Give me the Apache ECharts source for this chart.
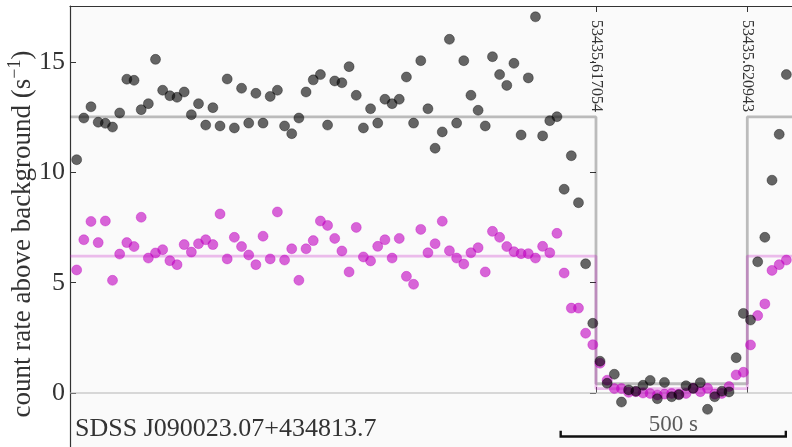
<!DOCTYPE html>
<html>
<head>
<meta charset="utf-8">
<script src="https://cdn.jsdelivr.net/npm/echarts@6/dist/echarts.min.js"></script>
<style>
  html, body { margin: 0; padding: 0; background: #ffffff; }
  #chart { width: 792px; height: 447px; }
</style>
</head>
<body>
<div id="chart"></div>
<script>
// Light curve of SDSS J090023.07+434813.7 around an eclipse.
// Times are seconds relative to the ingress epoch (MJD 53435.617054).

const timesSec = [
  -1153.3, -1137.4, -1121.5, -1105.5, -1089.6, -1073.7, -1057.8, -1041.9, -1025.9, -1010.0,
  -994.1, -978.2, -962.3, -946.3, -930.4, -914.5, -898.6, -882.7, -866.7, -850.8,
  -834.9, -819.0, -803.1, -787.1, -771.2, -755.3, -739.4, -723.5, -707.5, -691.6,
  -675.7, -659.8, -643.9, -627.9, -612.0, -596.1, -580.2, -564.3, -548.3, -532.4,
  -516.5, -500.6, -484.7, -468.7, -452.8, -436.9, -421.0, -405.1, -389.1, -373.2,
  -357.3, -341.4, -325.5, -309.5, -293.6, -277.7, -261.8, -245.9, -229.9, -214.0,
  -198.1, -182.2, -166.3, -150.3, -134.4, -118.5, -102.6, -86.7, -70.7, -54.8,
  -38.9, -23.0, -7.1, 8.9, 24.8, 40.7, 56.6, 72.5, 88.5, 104.4,
  120.3, 136.2, 152.1, 168.1, 184.0, 199.9, 215.8, 231.7, 247.7, 263.6,
  279.5, 295.4, 311.3, 327.3, 343.2, 359.1, 375.0, 390.9, 406.9, 422.8
];

// Count rate above background (s^-1), grey band
const rateGrey = [
  10.58, 12.47, 12.98, 12.28, 12.23, 12.06, 12.70, 14.23, 14.18, 12.85,
  13.12, 15.13, 13.73, 13.48, 13.41, 13.65, 12.62, 13.12, 12.15, 12.94,
  12.11, 14.24, 12.02, 13.82, 12.24, 13.59, 12.24, 13.45, 13.73, 12.11,
  11.76, 12.47, 13.65, 14.20, 14.44, 12.15, 14.15, 14.07, 14.80, 13.50,
  12.02, 12.89, 12.24, 13.32, 13.12, 13.32, 14.33, 12.24, 15.07, 12.89,
  11.10, 11.84, 16.04, 12.24, 15.07, 13.50, 12.82, 12.11, 15.25, 14.44,
  13.95, 14.95, 11.70, 14.29, 17.06, 11.66, 12.35, 12.53, 9.24, 10.76,
  8.63, 5.86, 3.16, 1.44, 0.44, 0.85, -0.41, 0.14, 0.08, 0.35,
  0.57, -0.26, 0.48, -0.17, -0.08, 0.33, 0.21, 0.47, -0.74, -0.17,
  0.08, 0.05, 1.60, 3.61, 3.31, 5.95, 7.06, 9.65, 11.73, 14.44
];

// Count rate above background (s^-1), magenta band
const rateMagenta = [
  5.58, 6.95, 7.78, 6.82, 7.80, 5.11, 6.30, 6.82, 6.64, 7.97,
  6.12, 6.35, 6.50, 6.00, 5.82, 6.73, 6.39, 6.77, 6.95, 6.73,
  8.12, 6.08, 7.06, 6.64, 6.26, 5.82, 7.11, 6.08, 8.21, 6.03,
  6.54, 5.11, 6.54, 6.91, 7.80, 7.60, 7.01, 6.44, 5.49, 7.51,
  6.17, 5.99, 6.65, 6.95, 6.12, 7.01, 5.29, 4.93, 7.42, 6.36,
  6.77, 7.79, 6.45, 6.12, 5.85, 6.36, 6.59, 5.49, 7.33, 7.06,
  6.64, 6.41, 6.32, 6.32, 6.12, 6.65, 6.36, 7.24, 5.44, 3.85,
  3.85, 2.71, 2.19, 1.35, 0.58, 0.20, 0.20, 0.03, 0.06, 0.00,
  -0.02, -0.09, -0.05, -0.02, -0.05, -0.02, 0.21, 0.06, 0.21, -0.05,
  -0.02, 0.29, 0.82, 0.94, 2.18, 3.51, 4.04, 5.56, 5.82, 6.03
];

// Contact epochs (MJD) shown as tick labels
const contactLabels = ['53435.617054', '53435.620943'];
const refMJD = 53435.617054;
const contactSec = contactLabels.map(s => (parseFloat(s) - refMJD) * 86400);

// Step model of the eclipse: out-of-eclipse level and in-eclipse level
const X_MIN = -1168.1, X_MAX = 435.3;
const Y_MIN = -2.449, Y_MAX = 17.55;
const modelTimes = [X_MIN, contactSec[0], contactSec[0], contactSec[1], contactSec[1], X_MAX];
const modelGrey = [12.52, 12.52, 0.42, 0.42, 12.52, 12.52];
const modelMagenta = [6.21, 6.21, 0.20, 0.20, 6.21, 6.21];

const yTicks = [0, 5, 10, 15];

// Time scale bar
const scaleBarStart = -78.4;
const scaleBarLength = 500;
const scaleBarText = '500 s';

const objectName = 'SDSS J090023.07+434813.7';
const yTitle = '{b|count rate above background (s}{sup|\u22121}{b|)}';

const serif = "Liberation Serif";
const zip = (xs, ys) => xs.map((x, i) => [x, ys[i]]);

const chart = echarts.init(document.getElementById('chart'), null, { renderer: 'canvas' });

chart.setOption({
  animation: false,
  backgroundColor: '#ffffff',
  grid: {
    left: 70, right: 0, top: 6, bottom: 0,
    show: true, backgroundColor: '#fafafa', borderWidth: 0
  },
  xAxis: [
    {
      type: 'value', position: 'top', min: X_MIN, max: X_MAX,
      axisLine: { show: true, onZero: false, lineStyle: { color: '#333333', width: 1.2 } },
      axisTick: { show: true, inside: true, length: 6, customValues: contactSec,
                  lineStyle: { color: '#333333', width: 1 } },
      axisLabel: {
        show: true, inside: true, rotate: 90, margin: 14,
        customValues: contactSec,
        formatter: v => {
          const i = contactSec.findIndex(c => Math.abs(c - v) < 1);
          return i >= 0 ? contactLabels[i] : '';
        },
        fontFamily: serif, fontSize: 16, color: '#333333'
      },
      splitLine: { show: false }
    },
    {
      type: 'value', position: 'bottom', min: X_MIN, max: X_MAX,
      axisLine: { show: false },
      axisTick: { show: true, inside: true, length: 6, customValues: contactSec,
                  lineStyle: { color: '#555555', width: 1 } },
      axisLabel: { show: false },
      splitLine: { show: false }
    }
  ],
  yAxis: [
    {
      type: 'value', min: Y_MIN, max: Y_MAX,
      axisLine: { show: true, onZero: false, lineStyle: { color: '#333333', width: 1.2 } },
      axisTick: { show: true, inside: true, length: 6, customValues: yTicks,
                  lineStyle: { color: '#333333', width: 1 } },
      axisLabel: { show: true, customValues: yTicks, margin: 5,
                   fontFamily: serif, fontSize: 26, color: '#333333' },
      splitLine: { show: false }
    },
    {
      type: 'value', position: 'right', min: Y_MIN, max: Y_MAX,
      axisLine: { show: false },
      axisTick: { show: true, inside: true, length: 6, customValues: yTicks,
                  lineStyle: { color: '#333333', width: 1 } },
      axisLabel: { show: false },
      splitLine: { show: false }
    }
  ],
  graphic: [
    {
      type: 'text', left: 75, top: 416, z: 10,
      style: { text: objectName, fontFamily: serif, fontSize: 26, fill: '#333333' }
    },
    {
      type: 'text', x: 21, y: 234, rotation: Math.PI / 2, z: 10,
      style: {
        text: yTitle, align: 'center', verticalAlign: 'middle',
        fontFamily: serif, fontSize: 27, fill: '#333333',
        rich: {
          b: { fontFamily: serif, fontSize: 27, fill: '#333333', verticalAlign: 'bottom', lineHeight: 30 },
          sup: { fontFamily: serif, fontSize: 18, fill: '#333333', verticalAlign: 'bottom', lineHeight: 30, padding: [0, 0, 12, 0] }
        }
      }
    }
  ],
  series: [
    {
      name: 'model grey', type: 'line', xAxisIndex: 0, yAxisIndex: 0,
      data: zip(modelTimes, modelGrey), symbol: 'none', z: 2,
      lineStyle: { color: 'rgba(0,0,0,0.25)', width: 2.8 }
    },
    {
      name: 'model magenta', type: 'line', xAxisIndex: 0, yAxisIndex: 0,
      data: zip(modelTimes, modelMagenta), symbol: 'none', z: 2,
      lineStyle: { color: 'rgba(191,0,191,0.25)', width: 2.8 }
    },
    {
      name: 'zero', type: 'line', xAxisIndex: 0, yAxisIndex: 0,
      data: [[X_MIN, 0], [X_MAX, 0]], symbol: 'none', z: 1,
      lineStyle: { color: '#b4b4b4', width: 1.2 }
    },
    {
      name: 'magenta', type: 'scatter', xAxisIndex: 0, yAxisIndex: 0,
      data: zip(timesSec, rateMagenta), symbol: 'circle', symbolSize: 10, z: 3,
      itemStyle: { color: 'rgba(191,0,191,0.6)', borderColor: 'rgba(191,0,191,0.35)', borderWidth: 1, opacity: 1 }
    },
    {
      name: 'grey', type: 'scatter', xAxisIndex: 0, yAxisIndex: 0,
      data: zip(timesSec, rateGrey), symbol: 'circle', symbolSize: 10, z: 4,
      itemStyle: { color: 'rgba(0,0,0,0.6)', borderColor: 'rgba(0,0,0,0.35)', borderWidth: 1, opacity: 1 }
    },
    {
      name: 'scale bar', type: 'line', xAxisIndex: 0, yAxisIndex: 0,
      data: [
        [scaleBarStart, -1.77], [scaleBarStart, -1.97],
        [scaleBarStart + scaleBarLength, -1.97], [scaleBarStart + scaleBarLength, -1.77]
      ],
      symbol: 'none', z: 6,
      lineStyle: { color: '#111111', width: 2.4, cap: 'square', join: 'miter' }
    },
    {
      name: 'scale label', type: 'scatter', xAxisIndex: 0, yAxisIndex: 0,
      data: [[scaleBarStart + scaleBarLength / 2, -1.47]],
      symbolSize: 0, z: 6, silent: true,
      label: { show: true, position: 'inside', formatter: scaleBarText,
               fontFamily: serif, fontSize: 23, color: '#333333' }
    }
  ]
});
</script>
</body>
</html>
